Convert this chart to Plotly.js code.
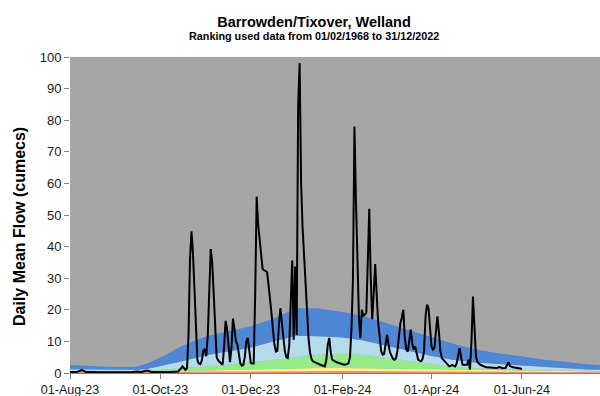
<!DOCTYPE html>
<html>
<head>
<meta charset="utf-8">
<script src="https://cdn.plot.ly/plotly-3.0.1.min.js"></script>
<style>
  html, body { margin: 0; padding: 0; background: #fff; overflow: hidden; }
  #chart { width: 600px; height: 396px; }
</style>
</head>
<body>
<div id="chart"></div>
<script>
// Daily mean flow, Barrowden/Tixover on the Welland (cumecs)
const flowDates = [
  '2023-08-01','2023-08-06','2023-08-09','2023-08-12','2023-08-21','2023-08-31',
  '2023-09-10','2023-09-15','2023-09-18','2023-09-22','2023-09-25',
  '2023-10-07','2023-10-13','2023-10-15','2023-10-16','2023-10-17','2023-10-18','2023-10-19',
  '2023-10-20','2023-10-21','2023-10-22','2023-10-23','2023-10-24','2023-10-25','2023-10-26',
  '2023-10-27','2023-10-28','2023-10-29','2023-10-30','2023-10-31',
  '2023-11-01','2023-11-02','2023-11-03','2023-11-04','2023-11-05','2023-11-06','2023-11-07',
  '2023-11-08','2023-11-09','2023-11-10','2023-11-11','2023-11-12','2023-11-13','2023-11-14',
  '2023-11-15','2023-11-16','2023-11-17','2023-11-18','2023-11-19','2023-11-20','2023-11-21',
  '2023-11-22','2023-11-23','2023-11-24','2023-11-25','2023-11-26','2023-11-27','2023-11-28',
  '2023-11-29','2023-11-30',
  '2023-12-01','2023-12-02','2023-12-03','2023-12-04','2023-12-05','2023-12-06','2023-12-07',
  '2023-12-08','2023-12-09','2023-12-10','2023-12-11','2023-12-12','2023-12-13','2023-12-14',
  '2023-12-15','2023-12-16','2023-12-17','2023-12-18','2023-12-19','2023-12-20','2023-12-21',
  '2023-12-22','2023-12-23','2023-12-24','2023-12-25','2023-12-26','2023-12-27','2023-12-28',
  '2023-12-29','2023-12-30','2023-12-31',
  '2024-01-01','2024-01-02','2024-01-03','2024-01-04','2024-01-05','2024-01-06','2024-01-07',
  '2024-01-08','2024-01-09','2024-01-10','2024-01-11','2024-01-12','2024-01-14','2024-01-17',
  '2024-01-20','2024-01-21','2024-01-22','2024-01-23','2024-01-24','2024-01-25','2024-01-28',
  '2024-01-31',
  '2024-02-02','2024-02-04','2024-02-05','2024-02-06','2024-02-07','2024-02-08','2024-02-09',
  '2024-02-10','2024-02-11','2024-02-12','2024-02-13','2024-02-14','2024-02-15','2024-02-16',
  '2024-02-17','2024-02-18','2024-02-19','2024-02-20','2024-02-21','2024-02-22','2024-02-23',
  '2024-02-24','2024-02-25','2024-02-26','2024-02-27','2024-02-28','2024-02-29',
  '2024-03-01','2024-03-02','2024-03-03','2024-03-04','2024-03-05','2024-03-06','2024-03-07',
  '2024-03-08','2024-03-09','2024-03-10','2024-03-11','2024-03-12','2024-03-13','2024-03-14',
  '2024-03-15','2024-03-16','2024-03-17','2024-03-18','2024-03-19','2024-03-20','2024-03-21',
  '2024-03-22','2024-03-23','2024-03-24','2024-03-25','2024-03-26','2024-03-27','2024-03-28',
  '2024-03-29','2024-03-30','2024-03-31',
  '2024-04-01','2024-04-02','2024-04-03','2024-04-04','2024-04-05','2024-04-06','2024-04-07',
  '2024-04-08','2024-04-10','2024-04-13','2024-04-15','2024-04-17','2024-04-18','2024-04-19',
  '2024-04-20','2024-04-21','2024-04-22','2024-04-25','2024-04-26','2024-04-27','2024-04-28',
  '2024-04-29','2024-04-30',
  '2024-05-01','2024-05-02','2024-05-04','2024-05-08','2024-05-15','2024-05-17','2024-05-19',
  '2024-05-21','2024-05-22','2024-05-23','2024-05-24','2024-05-26','2024-05-31','2024-06-01'
];
const flowValues = [
  0.3, 0.4, 0.9, 0.3, 0.2, 0.2,
  0.2, 0.5, 0.3, 0.8, 0.3,
  0.3, 0.5, 1.5, 2.1, 1.5, 1.0, 1.5,
  12, 36, 44.8, 38, 27, 13, 4,
  3, 2.8, 4, 7, 7.6,
  5.3, 12, 27, 39.2, 35, 24, 14,
  5, 4, 3.5, 3, 2.6, 8, 16.5,
  14, 7, 3.4, 8, 17.2, 14, 10,
  9, 6, 3, 2.3, 2.6, 5, 10,
  11.1, 6,
  3.2, 3.0, 3.0, 25, 55.8, 47, 42,
  38, 33, 32.5, 32.2, 32, 28, 24,
  19, 13.7, 9, 6.8, 7, 15, 20.5,
  16, 11, 7, 5, 4.7, 9, 22,
  35.6, 10.5, 33.7,
  12, 85, 98, 60, 46, 37, 28,
  18, 11, 6.5, 4.5, 3.7, 3.2, 2.6,
  2.1, 4, 9, 11.1, 6.5, 4.2, 3.4,
  2.8,
  2.6, 2.8, 3.1, 5, 14, 30, 78,
  55, 35, 18, 11, 20, 18, 18.5,
  19, 35, 52, 30, 17, 25, 34.5,
  25, 16, 11.6, 7, 5.8, 6,
  9, 12.1, 9, 6.5, 5.5, 4.5, 4.2,
  4.7, 7, 11, 15.8, 17.5, 20, 11,
  7.4, 6.8, 10, 13.7, 9.5, 7.4, 8.4,
  6, 4.2, 3.9, 3.7, 4.5, 7, 18,
  21.6, 20.5, 13,
  8.4, 7.4, 8, 13, 17.9, 13, 7,
  4.7, 3.7, 2.1, 2.5, 2.1, 3, 6,
  7.9, 5, 2.6, 2.6, 4.2, 1.1, 10,
  24.2, 15,
  5.3, 3.5, 2.6, 1.8, 1.6, 1.9, 1.5,
  1.6, 2.5, 3.4, 2.2, 1.8, 1.4, 1.2
];

// Historic flow ranking bands (upper edge of each band, cumecs)
const bandDates = [
  '2023-08-01','2023-08-15','2023-09-01','2023-09-15','2023-09-22','2023-10-01','2023-10-15',
  '2023-11-01','2023-11-15','2023-12-01','2023-12-15','2024-01-01','2024-01-15','2024-02-01',
  '2024-02-15','2024-03-01','2024-03-15','2024-04-01','2024-04-15','2024-05-01','2024-05-15',
  '2024-06-01','2024-06-15','2024-07-01','2024-07-15','2024-07-31'
];
const bandLowest    = [0.3, 0.3, 0.25, 0.25, 0.3, 0.3, 0.35, 0.4, 0.45, 0.5, 0.55, 0.6, 0.6, 0.6, 0.6, 0.55, 0.5, 0.5, 0.45, 0.4, 0.4, 0.35, 0.3, 0.3, 0.3, 0.25];
const bandBelowNorm = [0.5, 0.45, 0.4, 0.4, 0.45, 0.5, 0.6, 0.8, 1.0, 1.1, 1.3, 1.5, 1.6, 1.6, 1.5, 1.4, 1.2, 1.0, 0.9, 0.8, 0.7, 0.6, 0.55, 0.5, 0.45, 0.4];
const bandNormal    = [0.7, 0.6, 0.6, 0.6, 0.7, 1.0, 1.4, 2.0, 2.6, 3.4, 4.2, 5.2, 5.8, 6.0, 5.8, 4.8, 4.0, 3.0, 2.0, 1.5, 1.2, 1.0, 0.9, 0.8, 0.7, 0.6];
const bandAbove     = [1.2, 1.1, 1.0, 1.0, 1.3, 2.2, 3.6, 5.6, 6.8, 8.0, 9.8, 11.8, 11.6, 11.2, 10.3, 8.6, 7.2, 5.4, 4.2, 3.3, 2.8, 2.4, 2.0, 1.5, 1.1, 0.9];
const bandNotable   = [2.5, 2.2, 1.9, 2.0, 3.0, 4.8, 8.5, 11.6, 13.0, 14.8, 17.0, 20.5, 20.5, 19.3, 18.0, 15.8, 13.8, 11.3, 9.3, 7.4, 6.3, 5.3, 4.3, 3.5, 2.8, 2.3];

const bandColors = ['#ef8a74', '#faf38e', '#97ea8a', '#b3dbec', '#4f87d5'];

const tickDates  = ['2023-08-01','2023-10-01','2023-12-01','2024-02-01','2024-04-01','2024-06-01','2024-08-01'];
const tickLabels = ['01-Aug-23','01-Oct-23','01-Dec-23','01-Feb-24','01-Apr-24','01-Jun-24','01-Aug-24'];
const yTicks = [0, 10, 20, 30, 40, 50, 60, 70, 80, 90, 100];

const FONT = "'Liberation Sans', Arial, Helvetica, sans-serif";

const bandSeries = [bandLowest, bandBelowNorm, bandNormal, bandAbove, bandNotable];
const traces = bandSeries.map((edge, i) => ({
  x: bandDates,
  y: edge,
  type: 'scatter',
  mode: 'lines',
  line: { width: 0, color: bandColors[i] },
  fill: i === 0 ? 'tozeroy' : 'tonexty',
  fillcolor: bandColors[i],
  hoverinfo: 'skip'
}));

traces.push({
  x: flowDates,
  y: flowValues,
  type: 'scatter',
  mode: 'lines',
  line: { color: '#000000', width: 2 },
  hoverinfo: 'skip'
});

// plot area spans x 70..600, y 57..373 in page pixels
const L = 70, R = 600, T = 57, B = 373;
const px = (x) => (x - L) / (R - L);
const py = (y) => (B - y) / (B - T);

const layout = {
  width: 600,
  height: 396,
  margin: { l: L, r: 600 - R, t: T, b: 396 - B, pad: 0 },
  paper_bgcolor: '#ffffff',
  plot_bgcolor: '#a6a6a6',
  showlegend: false,
  font: { family: FONT, color: '#1a1a1a' },
  title: {
    text: '<b>Barrowden/Tixover, Welland</b>',
    font: { family: FONT, size: 14.5, color: '#000000' },
    xref: 'container', yref: 'container',
    x: 314 / 600, xanchor: 'center',
    y: 1 - 22 / 396, yanchor: 'middle'
  },
  annotations: [
    {
      text: '<b>Ranking used data from 01/02/1968 to 31/12/2022</b>',
      xref: 'paper', yref: 'paper',
      x: px(314), y: py(36),
      xanchor: 'center', yanchor: 'middle',
      showarrow: false,
      font: { family: FONT, size: 10.8, color: '#000000' }
    },
    {
      text: '<b>Daily Mean Flow (cumecs)</b>',
      xref: 'paper', yref: 'paper',
      x: px(19), y: py(227),
      xanchor: 'center', yanchor: 'middle',
      textangle: -90,
      showarrow: false,
      font: { family: FONT, size: 16, color: '#000000' }
    }
  ],
  xaxis: {
    type: 'date',
    range: ['2023-08-01', '2024-07-23 18:00'],
    tickvals: tickDates,
    ticktext: tickLabels,
    ticks: 'outside',
    ticklen: 5,
    tickwidth: 1,
    tickcolor: '#808080',
    showline: true,
    linecolor: '#808080',
    linewidth: 1,
    showgrid: false,
    zeroline: false,
    tickfont: { family: FONT, size: 12.5, color: '#1a1a1a' },
    fixedrange: true
  },
  yaxis: {
    range: [0, 100],
    tickvals: yTicks,
    ticks: 'outside',
    ticklen: 5,
    tickwidth: 1,
    tickcolor: '#808080',
    showline: false,
    showgrid: false,
    zeroline: false,
    tickfont: { family: FONT, size: 13, color: '#1a1a1a' },
    fixedrange: true
  }
};

Plotly.newPlot('chart', traces, layout, { staticPlot: true, displayModeBar: false });
</script>
</body>
</html>
